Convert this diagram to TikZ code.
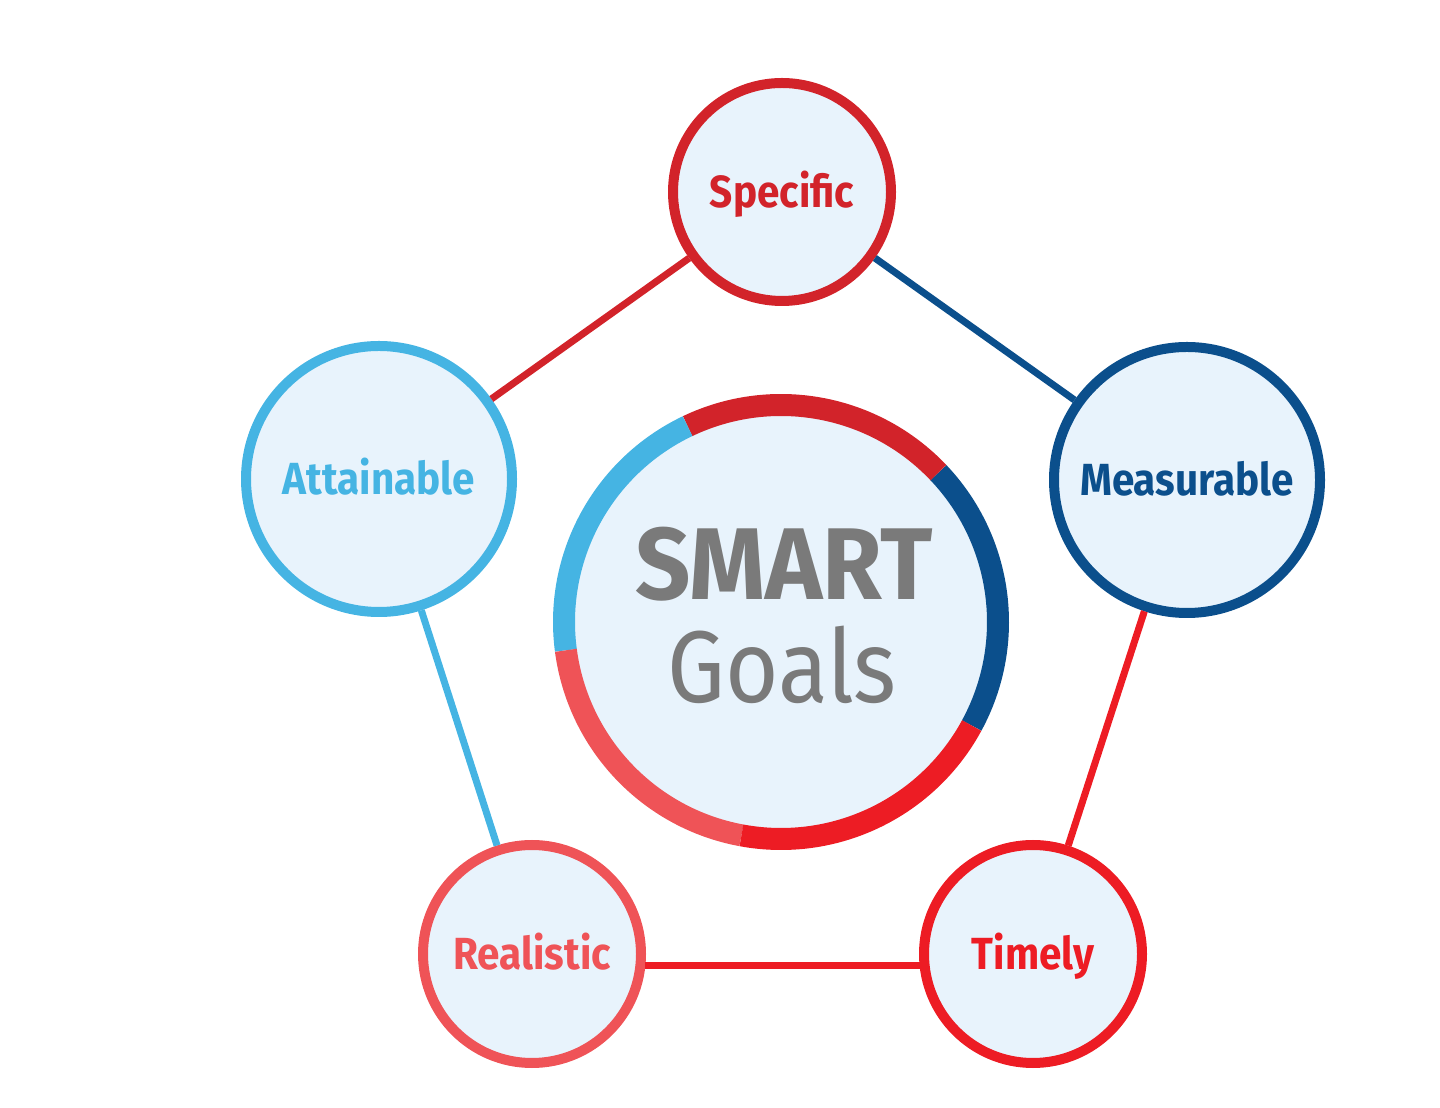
\documentclass[tikz,border=0pt]{standalone}
\usepackage{fontspec}
\newfontfamily\labelfont{Fira Sans}[FakeStretch=0.9]
\newfontfamily\titlefont{Fira Sans}[FakeStretch=0.95]
\definecolor{specred}{HTML}{D2232A}
\definecolor{measblue}{HTML}{0B4F8C}
\definecolor{attblue}{HTML}{45B4E3}
\definecolor{realred}{HTML}{EF5357}
\definecolor{timred}{HTML}{ED1C24}
\definecolor{goalfill}{HTML}{E8F3FC}
\definecolor{goalgray}{HTML}{7A7A7A}
\tikzset{
  goalcircle/.style={circle, fill=goalfill, line width=5pt, text height=15.5pt, text depth=0pt,
    font=\labelfont\bfseries\fontsize{22.5}{22.5}\selectfont},
  smallgoal/.style={goalcircle, minimum size=109pt},
  biggoal/.style={goalcircle, minimum size=133pt},
  link/.style={line width=3.5pt}
}
\begin{document}
\begin{tikzpicture}[x=0.5pt, y=0.5pt]
    \useasboundingbox (0,0) rectangle (1440,1108);

    % Goal circles
    \node[smallgoal, draw=specred, text=specred] (spe) at (782,916) {Specific};
    \node[biggoal, draw=measblue, text=measblue] (mea) at (1187,628) {Measurable};
    \node[smallgoal, draw=timred, text=timred] (tim) at (1033,154) {Timely};
    \node[smallgoal, draw=realred, text=realred] (rea) at (532,154) {Realistic};
    \node[biggoal, draw=attblue, text=attblue] (att) at (379,629) {Attainable};

    % Links
    \draw[link, specred] (spe) -- (att);
    \draw[link, measblue] (spe) -- (mea);
    \draw[link, timred] (mea) -- (tim);
    \draw[link, timred] (rea.-6) -- (tim.186);
    \draw[link, attblue] (att) -- (rea);

    % Centre ring
    \node[circle, fill=goalfill, minimum size=217pt] (smart) at (781,486) {};
    \foreach \a/\c in {-28.5/measblue, 43.5/specred, 115.5/attblue, 187.5/realred, 259.5/timred}
        \draw[line width=11pt, \c] ([shift={(\a:108.5pt)}]smart.center)
            arc[start angle=\a, delta angle=72, radius=108.5pt];

    % Labels
    \node[anchor=base, text=goalgray, font=\titlefont\bfseries\fontsize{51}{51}\selectfont] (title) at (784,508) {SMART};
    \node[anchor=base, text=goalgray, font=\labelfont\fontsize{51}{51}\selectfont] (sub) at (782,405) {Goals};

\end{tikzpicture}
\end{document}
